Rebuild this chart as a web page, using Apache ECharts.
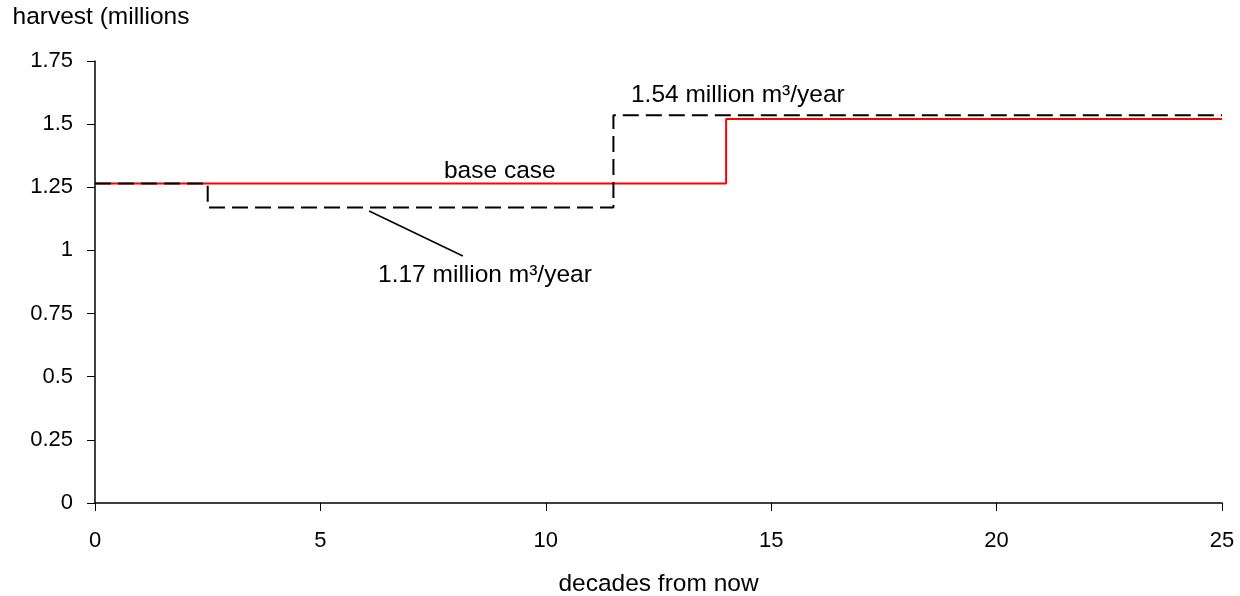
<!DOCTYPE html>
<html>
<head>
<meta charset="utf-8">
<script src="https://cdn.jsdelivr.net/npm/echarts@6/dist/echarts.min.js"></script>
<style>
  html, body { margin: 0; padding: 0; background: #fff; }
  #chart { width: 1240px; height: 596px; }
</style>
</head>
<body>
<div id="chart"></div>
<script>
// base case harvest: [decade, millions m3/year]
const baseCase = [[0, 1.265], [14, 1.265], [14, 1.52], [25, 1.52]];
// alternative schedule (dashed)
const altCase = [[0, 1.265], [2.5, 1.265], [2.5, 1.17], [11.5, 1.17], [11.5, 1.535], [25, 1.535]];
// leader line from the 1.17 label to the dashed segment
const leader = [[6.08, 1.156], [8.16, 0.978]];
// text annotations: [x, y, text]
const notes = [
  [8.98, 1.314, "base case"],
  [14.26, 1.614, "1.54 million m³/year"],
  [8.65, 0.902, "1.17 million m³/year"]
];
const xTicks = { min: 0, max: 25, step: 5 };
const yTicks = { min: 0, max: 1.75, step: 0.25 };

const font = "Liberation Sans, Arial, sans-serif";
const chart = echarts.init(document.getElementById("chart"));
chart.setOption({
  animation: false,
  textStyle: { fontFamily: font, color: "#000" },
  grid: { left: 95, right: 18, top: 61, bottom: 93, outerBoundsMode: "none", containLabel: false },
  xAxis: {
    type: "value",
    min: xTicks.min,
    max: xTicks.max,
    interval: xTicks.step,
    name: "decades from now",
    nameLocation: "middle",
    nameGap: 69,
    nameTextStyle: { fontSize: 24.5, color: "#000", fontFamily: font },
    axisLine: { onZero: false, lineStyle: { color: "#000", width: 1.5 } },
    axisTick: { length: 8, lineStyle: { color: "#000" } },
    axisLabel: { margin: 27, fontSize: 22, color: "#000", fontFamily: font },
    splitLine: { show: false }
  },
  yAxis: {
    type: "value",
    min: yTicks.min,
    max: yTicks.max,
    interval: yTicks.step,
    name: "harvest (millions",
    nameLocation: "end",
    nameGap: 31,
    nameTextStyle: { fontSize: 24.5, color: "#000", fontFamily: font, padding: [0, 0, 0, 12] },
    axisLine: { show: true, lineStyle: { color: "#000", width: 1.5 } },
    axisTick: { show: true, length: 8, lineStyle: { color: "#000" } },
    axisLabel: { margin: 22, fontSize: 22, color: "#000", fontFamily: font },
    splitLine: { show: false }
  },
  series: [
    {
      name: "alternative",
      type: "line",
      data: altCase,
      symbol: "none",
      lineStyle: { color: "#000", width: 2, type: [16, 7] },
      z: 3
    },
    {
      name: "base case",
      type: "line",
      data: baseCase,
      symbol: "none",
      lineStyle: { color: "#ff0000", width: 2 },
      z: 2
    },
    {
      name: "leader",
      type: "line",
      data: leader,
      symbol: "none",
      lineStyle: { color: "#000", width: 1.5 }
    },
    {
      name: "notes",
      type: "scatter",
      data: notes,
      symbolSize: 0,
      itemStyle: { opacity: 1 },
      label: {
        show: true,
        position: "inside",
        formatter: (p) => p.data[2],
        fontSize: 24.5,
        color: "#000",
        textBorderWidth: 0,
        fontFamily: font
      }
    }
  ]
});
</script>
</body>
</html>
